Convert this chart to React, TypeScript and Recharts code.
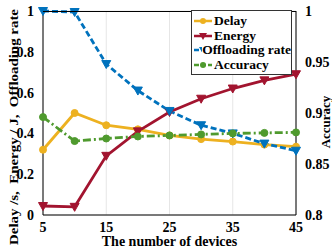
import { ComposedChart, Line, XAxis, YAxis, CartesianGrid } from 'recharts'

const devices = [5, 10, 15, 20, 25, 30, 35, 40, 45]
const delay = [0.32, 0.5, 0.44, 0.42, 0.39, 0.372, 0.36, 0.345, 0.335]
const energy = [0.044, 0.04, 0.29, 0.41, 0.505, 0.57, 0.62, 0.66, 0.69]
const offloading = [1.0, 0.995, 0.74, 0.61, 0.51, 0.44, 0.4, 0.35, 0.315]
const accuracy = [0.896, 0.8725, 0.875, 0.877, 0.878, 0.879, 0.88, 0.8805, 0.881]

const xTicks = [5, 15, 25, 35, 45]
const leftTicks = [0, 0.2, 0.4, 0.6, 0.8, 1]
const rightTicks = [0.8, 0.85, 0.9, 0.95, 1]

const data = devices.map((d, i) => ({
  devices: d,
  delay: delay[i],
  energy: energy[i],
  offloading: offloading[i],
  accuracy: accuracy[i],
}))

const FONT = '"Liberation Serif", "DejaVu Serif", serif'

const series = [
  { key: 'delay', name: 'Delay', color: '#EDB120', shape: 'circle', dash: undefined },
  { key: 'energy', name: 'Energy', color: '#A2142F', shape: 'tri', dash: undefined },
  { key: 'offloading', name: 'Offloading rate', color: '#0072BD', shape: 'tri', dash: '6 3' },
  { key: 'accuracy', name: 'Accuracy', color: '#4F9A2E', shape: 'circle', dash: '8 3 2 3' },
]

function makeDot(shape: string, color: string) {
  return (props: any) => {
    const { cx, cy, index } = props
    if (cx == null || cy == null) return <g key={index} />
    if (shape === 'circle') return <circle key={index} cx={cx} cy={cy} r={3.5} fill={color} stroke={color} />
    return (
      <polygon
        key={index}
        points={`${cx - 4.5},${cy - 3.5} ${cx + 4.5},${cy - 3.5} ${cx},${cy + 4.5}`}
        fill={color}
        stroke={color}
      />
    )
  }
}

function LegendBox() {
  return (
    <div
      style={{
        position: 'absolute',
        left: 191,
        top: 10,
        border: '1px solid #333',
        background: '#fff',
        width: 101,
        padding: '3px 0 2px 0',
        fontFamily: FONT,
        fontWeight: 'bold',
        fontSize: 13.5,
        lineHeight: '14.5px',
        boxSizing: 'border-box',
      }}
    >
      {series.map((s) => (
        <div key={s.key} style={{ display: 'flex', alignItems: 'center', whiteSpace: 'nowrap' }}>
          <svg width={21} height={10} style={{ marginLeft: 1 }}>
            <line x1={1} y1={5} x2={19} y2={5} stroke={s.color} strokeWidth={2.5} strokeDasharray={s.dash ? '5 2' : undefined} />
            {s.shape === 'circle' ? (
              <circle cx={10} cy={5} r={3} fill={s.color} />
            ) : (
              <polygon points="6,2 14,2 10,9" fill={s.color} />
            )}
          </svg>
          <span style={{ color: '#000' }}>{s.name}</span>
        </div>
      ))}
    </div>
  )
}

const titleStyle = { fontFamily: FONT, fontWeight: 'bold', fill: '#000' } as const

export default function App() {
  const tickStyle = { fontFamily: FONT, fontWeight: 'bold', fontSize: 14, fill: '#000' }
  return (
    <div style={{ position: 'absolute', left: 0, top: 0, width: 332, height: 249, background: '#fff' }}>
      <ComposedChart width={332} height={249} data={data} margin={{ top: 11, right: 0, bottom: 0, left: 0 }}>
        <CartesianGrid stroke="#e6e6e6" strokeWidth={1} vertical horizontal />
        <XAxis
          dataKey="devices"
          type="number"
          domain={[5, 45]}
          ticks={xTicks}
          height={34}
          tick={tickStyle}
          tickLine={false}
          axisLine={{ stroke: '#000' }}
          tickMargin={1}
          label={{
            value: 'The number of devices',
            position: 'insideBottom',
            offset: 3,
            style: { ...titleStyle, fontSize: 14 },
          }}
        />
        <YAxis
          yAxisId="left"
          domain={[0, 1]}
          ticks={leftTicks}
          width={43}
          tick={tickStyle}
          tickLine={false}
          axisLine={{ stroke: '#000' }}
          tickMargin={3}
          tickFormatter={(v: number) => String(v)}
          label={{
            value: 'Delay /s,  Energy / J,  Offloading rate',
            content: () => (
              <text
                x={13}
                y={127}
                transform="rotate(-90 13 127)"
                textAnchor="middle"
                dominantBaseline="central"
                fontSize={13}
                textLength={236}
                lengthAdjust="spacingAndGlyphs"
                style={{ ...titleStyle, whiteSpace: 'pre' }}
              >
                Delay /s,  Energy / J,  Offloading rate
              </text>
            ),
          }}
        />
        <YAxis
          yAxisId="right"
          orientation="right"
          domain={[0.8, 1]}
          ticks={rightTicks}
          width={36}
          tick={tickStyle}
          tickLine={false}
          axisLine={{ stroke: '#000' }}
          tickMargin={3}
          tickFormatter={(v: number) => String(v)}
          label={{
            value: 'Accuracy',
            content: () => (
              <text
                x={325}
                y={122}
                transform="rotate(-90 325 122)"
                textAnchor="middle"
                dominantBaseline="central"
                fontSize={13}
                style={titleStyle}
              >
                Accuracy
              </text>
            ),
          }}
        />
        {series.map((s) => (
          <Line
            key={s.key}
            yAxisId={s.key === 'accuracy' ? 'right' : 'left'}
            dataKey={s.key}
            name={s.name}
            stroke={s.color}
            strokeWidth={2.8}
            strokeDasharray={s.dash}
            dot={makeDot(s.shape, s.color)}
            activeDot={false}
            isAnimationActive={false}
            type="linear"
          />
        ))}
      </ComposedChart>
      <div
        style={{
          position: 'absolute',
          left: 43,
          top: 11,
          width: 253,
          height: 204,
          borderTop: '1px solid #000',
          boxSizing: 'border-box',
          pointerEvents: 'none',
        }}
      />
      <LegendBox />
    </div>
  )
}
